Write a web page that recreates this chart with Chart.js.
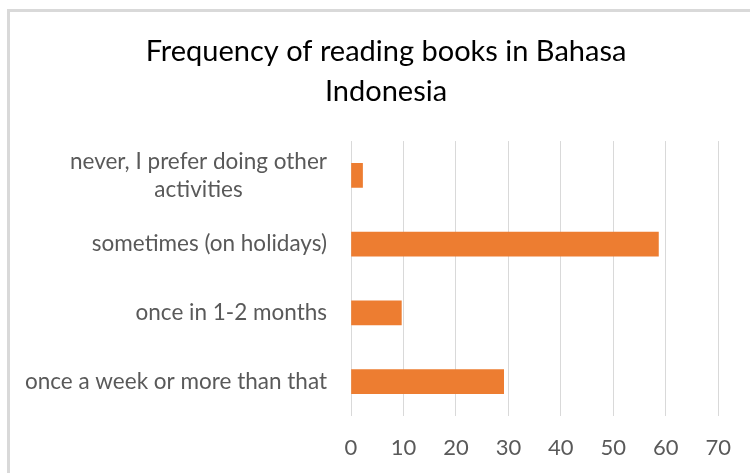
<!DOCTYPE html>
<html>
<head>
<meta charset="utf-8">
<script src="https://cdn.jsdelivr.net/npm/chart.js@4.4.1/dist/chart.umd.min.js"></script>
<style>
  html, body { margin: 0; padding: 0; background: #fff; }
  #wrap { position: relative; width: 750px; height: 473px; overflow: hidden; }
  #frame { position: absolute; left: 7px; top: 9px; width: 800px; height: 500px;
           border-left: 3px solid #d9d9d9; border-top: 3px solid #d9d9d9; }
  canvas { position: absolute; left: 0; top: 0; }
</style>
</head>
<body>
<div id="wrap">
  <div id="frame"></div>
  <canvas id="readingChart" width="750" height="473"></canvas>
</div>
<script>
// chart data
const categories = [
  ['never, I prefer doing other', 'activities'],
  'sometimes (on holidays)',
  'once in 1-2 months',
  'once a week or more than that'
];
const values = [2.2, 58.6, 9.6, 29.1];
const xTicks = [0, 10, 20, 30, 40, 50, 60, 70];
const chartTitle = ['Frequency of reading books in Bahasa', 'Indonesia'];

const labelFont = '22.5px Lato';
const labelColor = '#595959';

// draws the y labels, each line centred under the widest line, right edge fixed
const yLabelPlugin = {
  id: 'yLabels',
  afterDraw(chart) {
    const ctx = chart.ctx;
    const scale = chart.scales.y;
    const right = scale.right - 24;
    ctx.save();
    ctx.font = labelFont;
    ctx.fillStyle = labelColor;
    ctx.textAlign = 'center';
    ctx.textBaseline = 'middle';
    categories.forEach((cat, i) => {
      const lines = Array.isArray(cat) ? cat : [cat];
      const widest = Math.max(...lines.map(l => ctx.measureText(l).width));
      const cx = right - widest / 2;
      const y = scale.getPixelForTick(i);
      const lh = 28;
      lines.forEach((l, j) => {
        ctx.fillText(l, cx, y + (j - (lines.length - 1) / 2) * lh);
      });
    });
    ctx.restore();
  }
};

const ctx = document.getElementById('readingChart').getContext('2d');
new Chart(ctx, {
  type: 'bar',
  data: {
    labels: categories,
    datasets: [{
      data: values,
      backgroundColor: '#ed7d31',
      borderWidth: 0,
      barThickness: 24
    }]
  },
  options: {
    indexAxis: 'y',
    responsive: false,
    animation: false,
    layout: { padding: { top: 0, right: 31, bottom: 0, left: 53 } },
    plugins: {
      legend: { display: false },
      tooltip: { enabled: false },
      title: {
        display: true,
        text: chartTitle,
        color: '#000',
        font: { family: 'Lato', size: 29, weight: 'normal', lineHeight: 1.38 },
        padding: { top: 32, bottom: 29 }
      }
    },
    scales: {
      x: {
        min: 0,
        max: 70,
        afterBuildTicks: s => { s.ticks = xTicks.map(v => ({ value: v })); },
        afterFit: s => { s.height = 57; },
        grid: { color: '#d9d9d9', lineWidth: 1, drawTicks: false },
        border: { display: false },
        ticks: { color: labelColor, font: { family: 'Lato', size: 22 }, padding: 19 }
      },
      y: {
        afterFit: s => { s.width = 298; },
        grid: { display: false },
        border: { display: false },
        ticks: { display: false }
      }
    }
  },
  plugins: [yLabelPlugin]
});
</script>
</body>
</html>
